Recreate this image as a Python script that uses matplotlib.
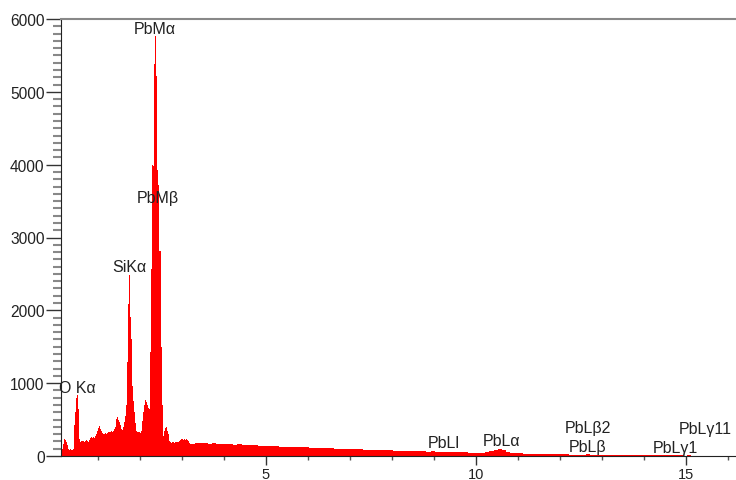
import numpy as np
import matplotlib.pyplot as plt
from matplotlib.ticker import MultipleLocator

plt.rcParams['font.family'] = ['Liberation Sans', 'DejaVu Sans']

# low-energy channels, 0.02 keV wide, starting at 0.10 keV
low_counts = [
    87, 88, 95, 170, 233, 238, 225, 190, 150, 100,
    87, 86, 90, 85, 88, 92, 233, 420, 610, 790,
    843, 645, 394, 233, 195, 210, 200, 205, 190, 212,
    200, 215, 205, 198, 222, 235, 242, 256, 250, 262,
    245, 255, 272, 300, 340, 390, 417, 400, 372, 348,
    320, 302, 298, 310, 295, 305, 322, 330, 324, 336,
    330, 342, 335, 350, 372, 400, 455, 510, 531, 498,
    462, 420, 394, 372, 360, 400, 470, 554, 700, 850,
    1290, 2090, 2485, 1910, 1600, 1290, 965, 760, 600, 450,
    350, 330, 325, 335, 328, 320, 340, 380, 480, 604,
    705, 770, 740, 700, 680, 662, 650, 1430, 2570, 3990,
    4000, 3980, 5380, 5770, 5220, 3920, 3720, 3720, 2820, 2810,
    1500, 700, 535, 280, 350, 380, 394, 340, 302, 250,
    210, 190, 185, 192, 186, 188, 182, 190, 186, 195,
    188, 192, 200, 215, 228, 235, 226, 238, 230, 222,
    232, 215, 200, 172, 168, 165, 170, 162, 168, 165,
    175,
]
# high-energy part, 0.1 keV bins starting at 3.32 keV
tail_counts = [
    178, 172, 180, 168, 175, 165, 170, 160, 166, 155,
    158, 150, 152, 145, 148, 140, 138, 142, 132, 135,
    128, 130, 126, 122, 125, 118, 120, 114, 116, 110,
    108, 104, 106, 100, 98, 101, 96, 94, 97, 90,
    86, 88, 82, 84, 79, 80, 76, 74, 70, 72,
    66, 68, 64, 62, 65, 60, 62, 58, 60, 56,
    58, 54, 55, 52, 50, 48, 46, 45, 44, 50,
    62, 80, 90, 78, 55, 42, 38, 36, 34, 33,
    31, 30, 29, 28, 27, 26, 25, 24, 22, 20,
    18, 17, 20, 24, 18, 16, 15, 14, 13, 13,
    12, 11, 12, 10, 10, 9, 10, 9, 8, 9,
    8, 8, 7, 8, 7, 7, 6, 7, 6, 2,
    0, 0, 0, 0, 0, 0, 0, 0, 0,
]

low_edges = np.round(0.10 + 0.02 * np.arange(len(low_counts) + 1), 3)
tail_edges = np.round(low_edges[-1] + 0.1 * np.arange(len(tail_counts) + 1), 3)
edges = np.concatenate([low_edges, tail_edges[1:]])
counts = np.array(low_counts + tail_counts)

peak_labels = ['O Kα', 'SiKα', 'PbMα', 'PbMβ', 'PbLl', 'PbLα',
               'PbLβ2', 'PbLβ', 'PbLγ1', 'PbLγ11']
label_kev = [0.52, 1.74, 2.36, 2.43, 9.23, 10.6, 12.66, 12.65, 14.75, 15.45]
label_cts = [947, 2595, 5863, 3556, 192, 206, 398, 137, 110, 384]

fig = plt.figure(figsize=(7.36, 4.81), dpi=100)
ax = fig.add_axes([61 / 736, 24 / 481, 675 / 736, 437 / 481])

ax.stairs(counts, edges, fill=True, color='#ff0000', linewidth=0)

for lab, xk, yc in zip(peak_labels, label_kev, label_cts):
    ax.text(xk, yc, lab, ha='center', va='center', fontsize=11.5, color='#222222')

ax.set_xlim(0.12, 16.19)
ax.set_ylim(0, 6000)

ax.xaxis.set_major_locator(MultipleLocator(5))
ax.xaxis.set_minor_locator(MultipleLocator(1))
ax.yaxis.set_major_locator(MultipleLocator(1000))
ax.yaxis.set_minor_locator(MultipleLocator(100))

ax.tick_params(axis='y', which='major', direction='out', length=10.8, width=1,
               color='#333333', pad=1, labelsize=11.2, labelcolor='#222222')
ax.tick_params(axis='y', which='minor', direction='out', length=5.8, width=1.5,
               color='#888888')
ax.tick_params(axis='x', which='major', direction='out', length=6.5, width=1,
               color='#333333', pad=1.5, labelsize=10.5, labelcolor='#222222')
ax.tick_params(axis='x', which='minor', direction='out', length=3, width=1,
               color='#555555')

ax.spines['right'].set_visible(False)
ax.spines['top'].set_color('#888888')
ax.spines['top'].set_linewidth(1.5)
ax.spines['left'].set_color('#222222')
ax.spines['bottom'].set_color('#222222')

fig.savefig('out.png', dpi=100)
